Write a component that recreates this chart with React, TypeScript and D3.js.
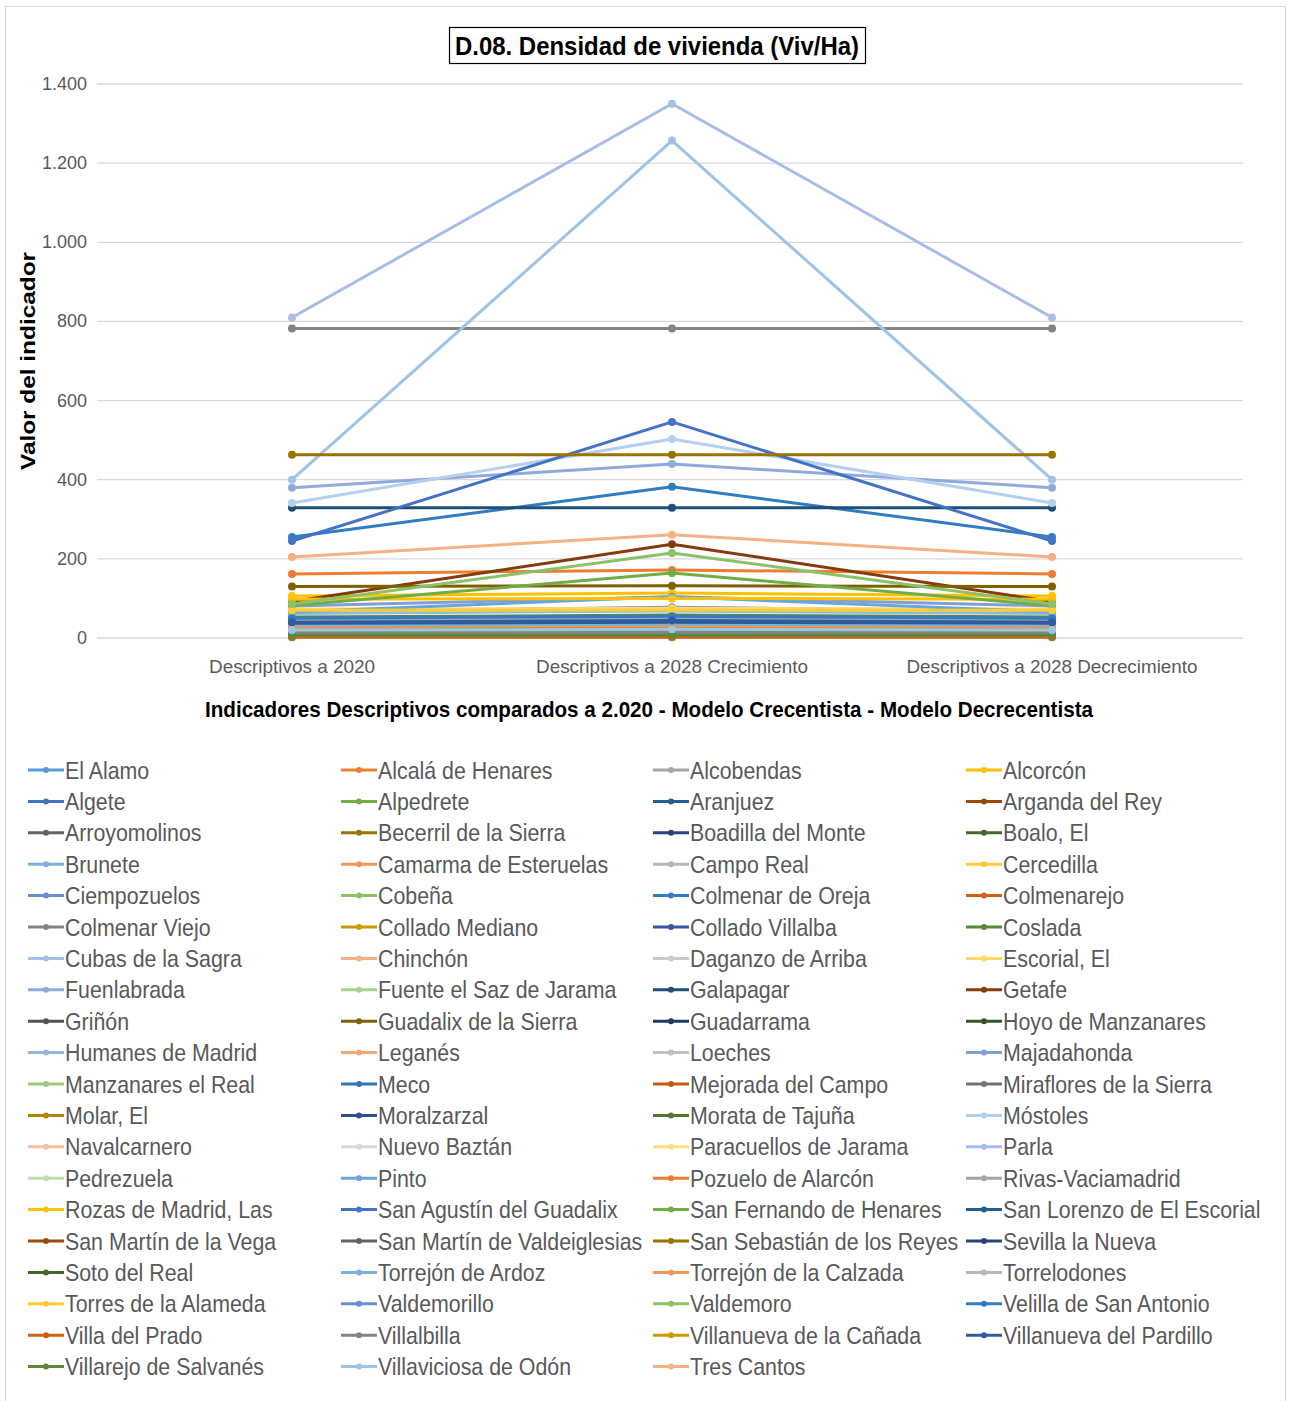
import React from "react";
import * as d3 from "d3";

// Categories on the x axis
const categories = [
  "Descriptivos a 2020",
  "Descriptivos a 2028 Crecimiento",
  "Descriptivos a 2028 Decrecimiento",
];

// Municipalities (series), in legend order
const municipios = [
  "El Alamo", "Alcalá de Henares", "Alcobendas", "Alcorcón",
  "Algete", "Alpedrete", "Aranjuez", "Arganda del Rey",
  "Arroyomolinos", "Becerril de la Sierra", "Boadilla del Monte", "Boalo, El",
  "Brunete", "Camarma de Esteruelas", "Campo Real", "Cercedilla",
  "Ciempozuelos", "Cobeña", "Colmenar de Oreja", "Colmenarejo",
  "Colmenar Viejo", "Collado Mediano", "Collado Villalba", "Coslada",
  "Cubas de la Sagra", "Chinchón", "Daganzo de Arriba", "Escorial, El",
  "Fuenlabrada", "Fuente el Saz de Jarama", "Galapagar", "Getafe",
  "Griñón", "Guadalix de la Sierra", "Guadarrama", "Hoyo de Manzanares",
  "Humanes de Madrid", "Leganés", "Loeches", "Majadahonda",
  "Manzanares el Real", "Meco", "Mejorada del Campo", "Miraflores de la Sierra",
  "Molar, El", "Moralzarzal", "Morata de Tajuña", "Móstoles",
  "Navalcarnero", "Nuevo Baztán", "Paracuellos de Jarama", "Parla",
  "Pedrezuela", "Pinto", "Pozuelo de Alarcón", "Rivas-Vaciamadrid",
  "Rozas de Madrid, Las", "San Agustín del Guadalix", "San Fernando de Henares", "San Lorenzo de El Escorial",
  "San Martín de la Vega", "San Martín de Valdeiglesias", "San Sebastián de los Reyes", "Sevilla la Nueva",
  "Soto del Real", "Torrejón de Ardoz", "Torrejón de la Calzada", "Torrelodones",
  "Torres de la Alameda", "Valdemorillo", "Valdemoro", "Velilla de San Antonio",
  "Villa del Prado", "Villalbilla", "Villanueva de la Cañada", "Villanueva del Pardillo",
  "Villarejo de Salvanés", "Villaviciosa de Odón", "Tres Cantos",
];

// Housing density (Viv/Ha) per municipality for each scenario
const valores2020 = [
  28, 162, 48, 106, 36, 22, 30, 12, 40, 8, 18, 6, 14, 20, 10, 12,
  66, 15, 255, 9, 782, 11, 35, 53, 400, 7, 16, 73, 380, 13, 329, 92,
  24, 130, 20, 10, 62, 28, 17, 81, 10, 45, 14, 5, 8, 25, 12, 341,
  15, 4, 70, 810, 6, 66, 20, 46, 98, 245, 82, 35, 3, 8, 463, 12,
  9, 30, 25, 18, 70, 12, 86, 50, 2, 14, 22, 40, 7, 20, 205,
];
const valoresCrecimiento = [
  30, 172, 55, 114, 40, 24, 34, 14, 45, 9, 20, 7, 15, 22, 11, 13,
  78, 16, 382, 10, 782, 12, 40, 58, 1257, 8, 17, 75, 440, 14, 329, 237,
  26, 132, 22, 11, 68, 30, 18, 104, 11, 50, 15, 5, 9, 27, 13, 503,
  17, 4, 72, 1350, 6, 104, 22, 50, 100, 546, 164, 36, 3, 8, 463, 13,
  10, 32, 27, 20, 71, 13, 215, 55, 2, 15, 24, 44, 7, 22, 261,
];
const valoresDecrecimiento = [
  28, 162, 48, 106, 36, 22, 30, 12, 40, 8, 18, 6, 14, 20, 10, 12,
  66, 15, 255, 9, 782, 11, 35, 53, 400, 7, 16, 73, 380, 13, 329, 92,
  24, 130, 20, 10, 62, 28, 17, 81, 10, 45, 14, 5, 8, 25, 12, 341,
  15, 4, 70, 810, 6, 66, 20, 46, 98, 245, 82, 35, 3, 8, 463, 12,
  9, 30, 25, 18, 70, 12, 86, 50, 2, 14, 22, 40, 7, 20, 205,
];

// Series colours (office-style palette cycling through shades)
const colores = [
  "#5B9BD5", "#ED7D31", "#A5A5A5", "#FFC000", "#4472C4", "#70AD47",
  "#255E91", "#9E480E", "#636363", "#997300", "#264478", "#43682B",
  "#7CAFDD", "#F1975A", "#B7B7B7", "#FFCD33", "#698ED0", "#8CC168",
  "#327DC2", "#D26012", "#848484", "#CC9A00", "#335AA1", "#5A8A39",
  "#9DC3E6", "#F4B183", "#C9C9C9", "#FFD966", "#8FAADC", "#A9D18E",
  "#1F4E79", "#843C0C", "#525252", "#7F6000", "#203864", "#375623",
  "#8CB8E2", "#F3A672", "#C0C0C0", "#7F9FD8", "#9ACB7C", "#2E75B6",
  "#C55A11", "#737373", "#B38600", "#2E5090", "#4E7A30", "#B4D0EE",
  "#F6C1A1", "#D9D9D9", "#FFE07F", "#A7BCE6", "#BDDDA9", "#6AA5DB",
  "#ED7D31", "#A5A5A5", "#FFC000", "#4472C4", "#70AD47", "#255E91",
  "#9E480E", "#636363", "#997300", "#264478", "#43682B", "#7CAFDD",
  "#F1975A", "#B7B7B7", "#FFCD33", "#698ED0", "#8CC168", "#327DC2",
  "#D26012", "#848484", "#CC9A00", "#335AA1", "#5A8A39", "#9DC3E6",
  "#F4B183",
];

const yTicks = [0, 200, 400, 600, 800, 1000, 1200, 1400];

const W = 1291;
const H = 1401;
const NARROW = "'Liberation Sans Narrow', 'Arial Narrow', 'Liberation Sans', Arial, sans-serif";
const SANS = "'Liberation Sans', Arial, sans-serif";

function fmt(v: number) {
  // Spanish thousands separator
  const s = String(v);
  return s.length > 3 ? s.slice(0, s.length - 3) + "." + s.slice(-3) : s;
}

export default function App() {
  const x = d3.scalePoint<string>().domain(categories).range([102, 1242]).padding(0.5);
  const y = d3.scaleLinear().domain([0, 1400]).range([638, 84]);

  const series = municipios.map((name, i) => ({
    name,
    color: colores[i],
    values: [valores2020[i], valoresCrecimiento[i], valoresDecrecimiento[i]],
  }));

  const line = d3
    .line<number>()
    .x((_, j) => x(categories[j]) as number)
    .y((v) => y(v));

  const colX = [28, 341, 653, 966];
  const rowY0 = 770;
  const rowStep = 31.4;

  return (
    <div style={{ position: "absolute", left: 0, top: 0 }}>
      <svg width={W} height={H} style={{ display: "block", background: "#fff" }}>
        {/* chart frame */}
        <rect x={5.5} y={6.5} width={1280} height={1400} fill="#fff" stroke="#D9D9D9" strokeWidth={1} />

        {/* title */}
        <rect x={449.5} y={27.5} width={416} height={36} fill="#fff" stroke="#000" strokeWidth={1.2} />
        <text
          x={657}
          y={55}
          textAnchor="middle"
          fontFamily={NARROW}
          fontWeight="bold"
          fontSize={25}
          fill="#000"
          textLength={404}
          lengthAdjust="spacingAndGlyphs"
        >
          D.08. Densidad de vivienda (Viv/Ha)
        </text>

        {/* gridlines and y tick labels */}
        {yTicks.map((t) => (
          <g key={t}>
            <line x1={97} x2={1243} y1={y(t)} y2={y(t)} stroke="#D9D9D9" strokeWidth={1.3} />
            <text
              x={87}
              y={y(t) + 6}
              textAnchor="end"
              fontFamily={NARROW}
              fontSize={18}
              fill="#595959"
            >
              {fmt(t)}
            </text>
          </g>
        ))}

        {/* y axis title */}
        <text
          transform={`translate(35,361) rotate(-90)`}
          textAnchor="middle"
          fontFamily={SANS}
          fontWeight="bold"
          fontSize={20}
          fill="#000"
          textLength={218}
          lengthAdjust="spacingAndGlyphs"
        >
          Valor del indicador
        </text>

        {/* x category labels */}
        {categories.map((c, i) => (
          <text
            key={c}
            x={x(c) as number}
            y={673}
            textAnchor="middle"
            fontFamily={NARROW}
            fontSize={19}
            fill="#595959"
            textLength={[166, 272, 291][i]}
            lengthAdjust="spacingAndGlyphs"
          >
            {c}
          </text>
        ))}

        {/* x axis title */}
        <text
          x={649}
          y={717}
          textAnchor="middle"
          fontFamily={NARROW}
          fontWeight="bold"
          fontSize={22}
          fill="#000"
          textLength={888}
          lengthAdjust="spacingAndGlyphs"
        >
          Indicadores Descriptivos comparados a 2.020 - Modelo Crecentista - Modelo Decrecentista
        </text>

        {/* series */}
        {series.map((s) => (
          <g key={s.name}>
            <path
              d={line(s.values) || ""}
              fill="none"
              stroke={s.color}
              strokeWidth={3}
              strokeLinejoin="round"
            />
            {s.values.map((v, j) => (
              <circle key={j} cx={x(categories[j]) as number} cy={y(v)} r={4} fill={s.color} />
            ))}
          </g>
        ))}

        {/* legend */}
        {series.map((s, i) => {
          const col = i % 4;
          const row = Math.floor(i / 4);
          const lx = colX[col];
          const ly = rowY0 + row * rowStep;
          return (
            <g key={"lg" + s.name}>
              <line x1={lx} x2={lx + 36} y1={ly} y2={ly} stroke={s.color} strokeWidth={3} />
              <circle cx={lx + 18} cy={ly} r={3} fill={s.color} />
              <text
                transform={`translate(${lx + 37},${ly + 8.5}) scale(0.89,1)`}
                fontFamily={NARROW}
                fontSize={24}
                fill="#595959"
              >
                {s.name}
              </text>
            </g>
          );
        })}
      </svg>
    </div>
  );
}
